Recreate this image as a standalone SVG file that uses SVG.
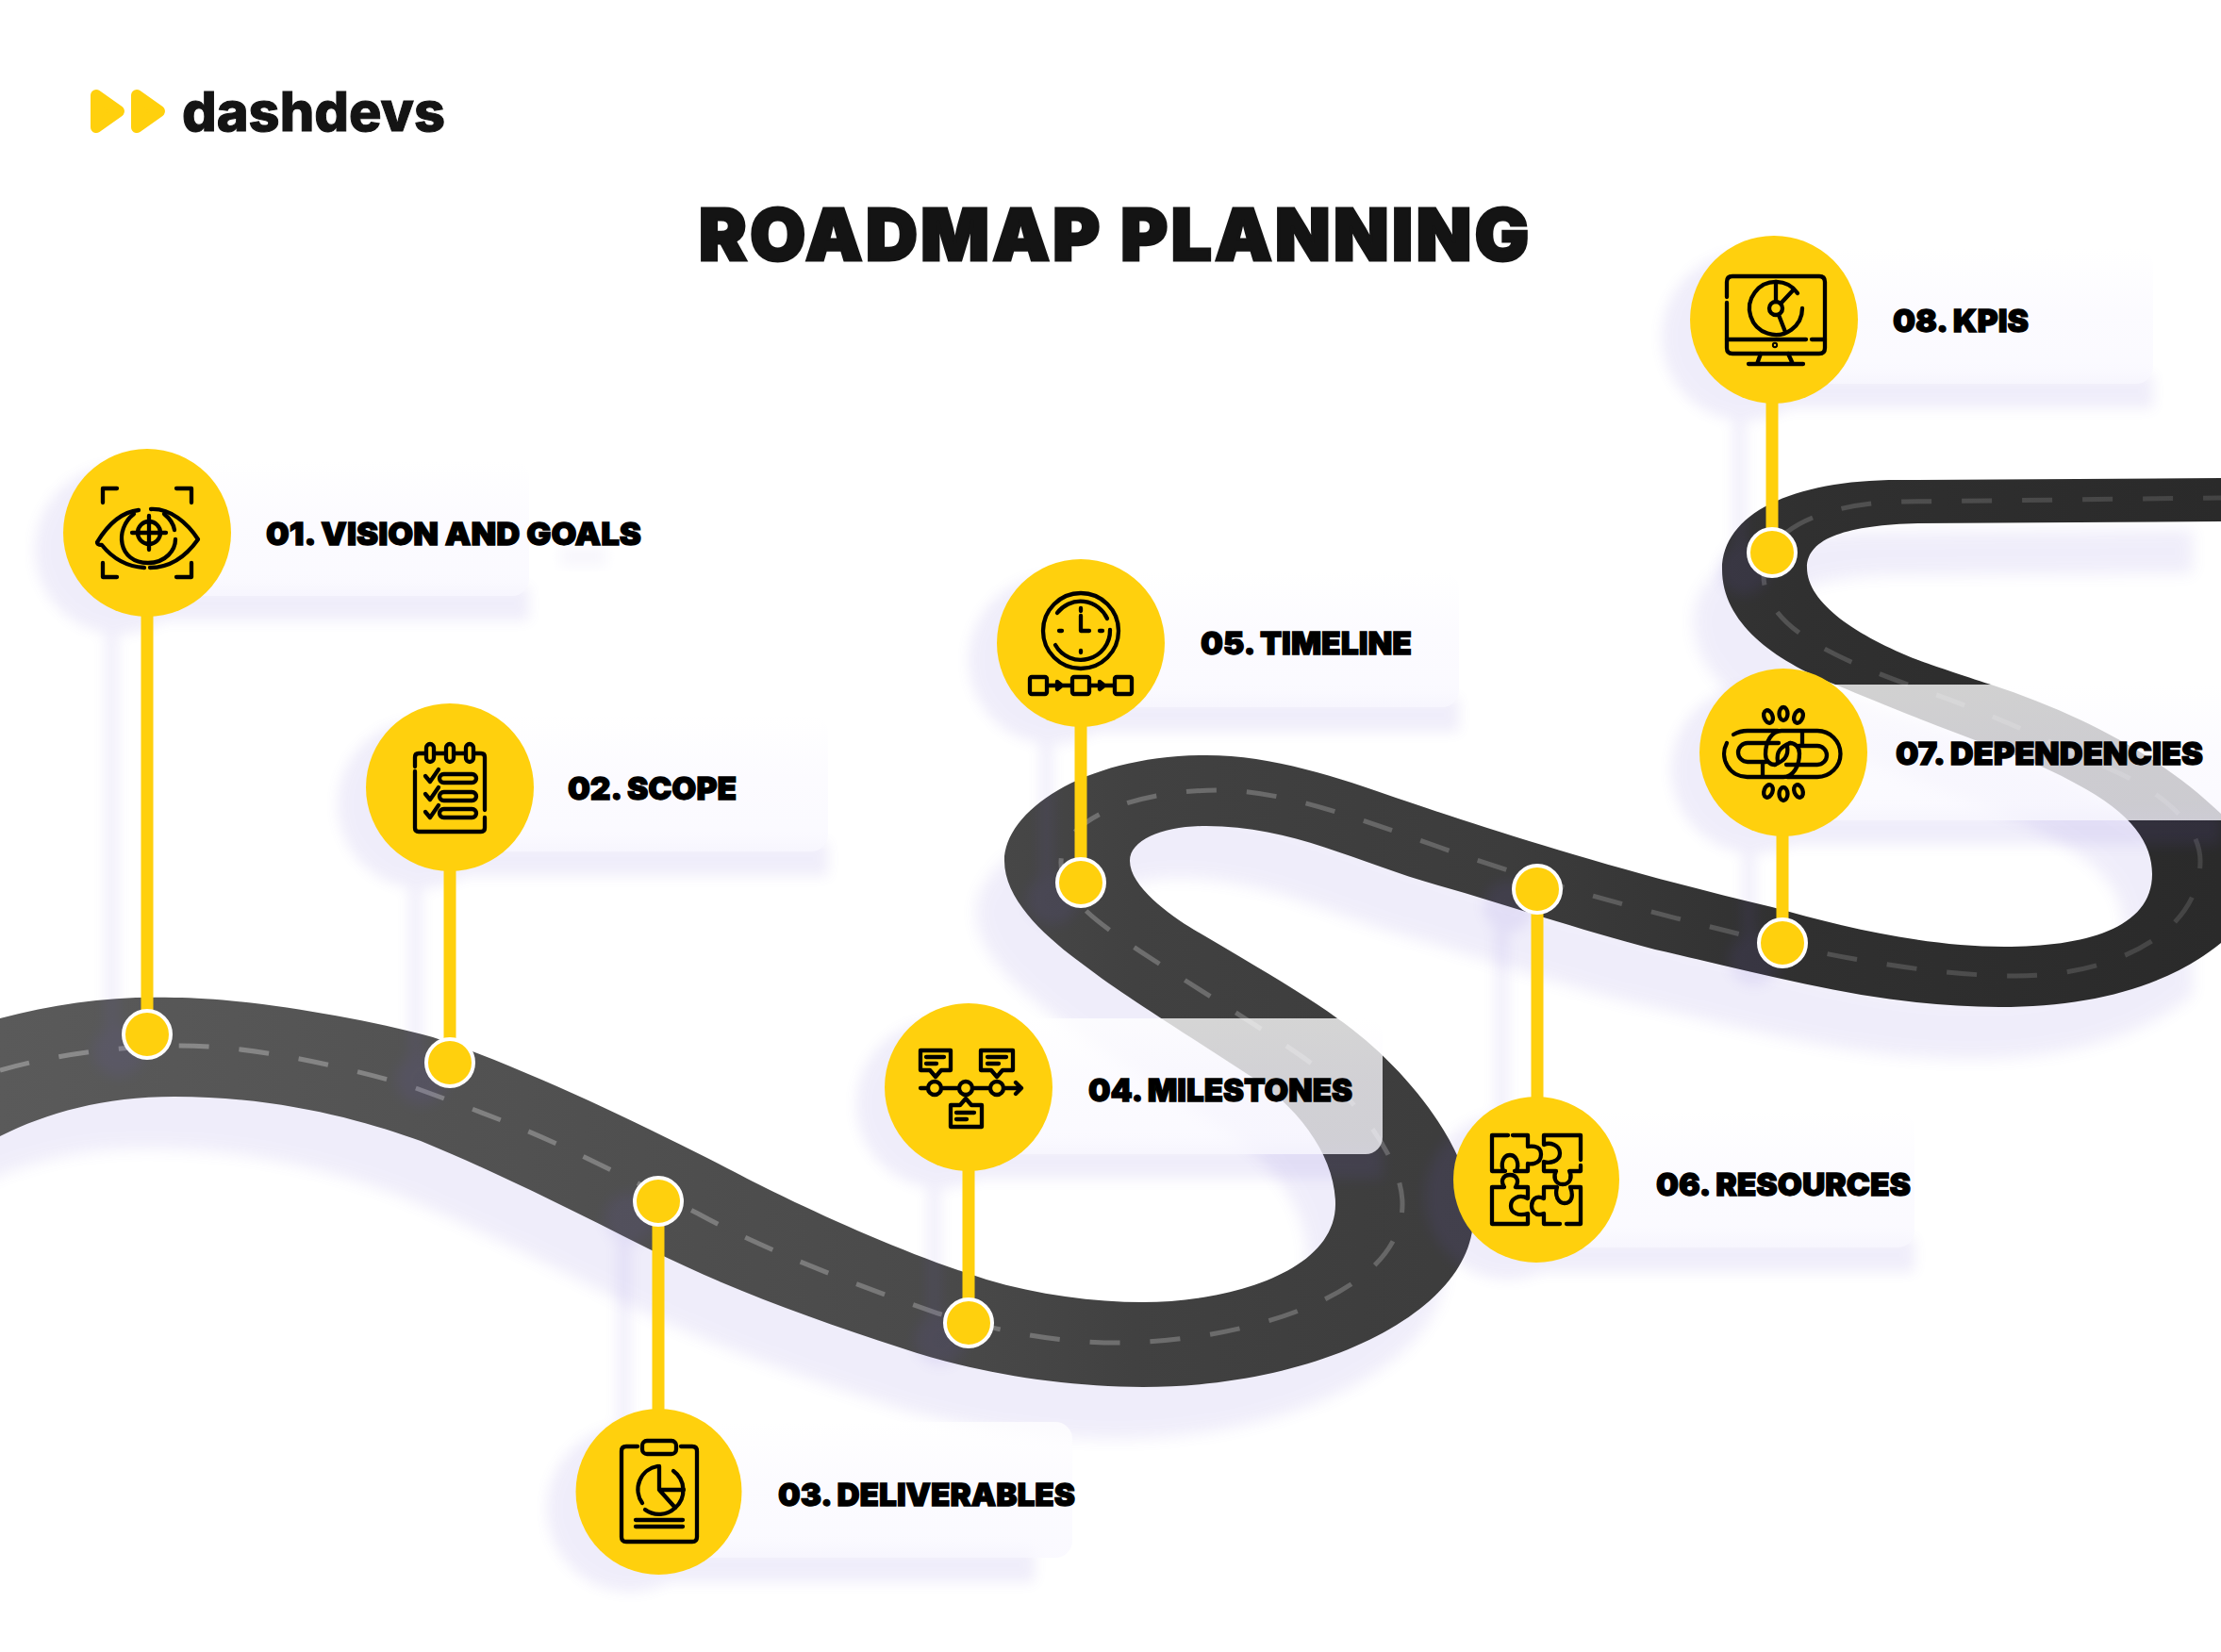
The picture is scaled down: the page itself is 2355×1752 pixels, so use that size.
<svg xmlns="http://www.w3.org/2000/svg" width="2355" height="1752" viewBox="0 0 2355 1752">
<style>
.t{font-family:"Inter","Liberation Sans",sans-serif;font-weight:900;fill:#000;stroke:#000;stroke-width:1.300;font-size:33px}
.i{fill:none;stroke:#000;stroke-width:4.300;stroke-linecap:round;stroke-linejoin:round}
.y{fill:#ffd00d}
.p{fill:url(#pg);fill-opacity:.78}
.d{fill:#ffd00d;stroke:#fff;stroke-width:4}
.l{stroke:#ffd00d;stroke-width:13}
</style>
<defs>
<linearGradient id="pg" x1="0" y1="0" x2="0" y2="1"><stop offset="0" stop-color="#fff"/><stop offset=".45" stop-color="#fbfaff"/><stop offset="1" stop-color="#f9f8ff"/></linearGradient>
<linearGradient id="rg" gradientUnits="userSpaceOnUse" x1="0" y1="0" x2="2355" y2="0">
<stop offset="0" stop-color="#5a5a5a"/><stop offset=".21" stop-color="#525252"/><stop offset=".42" stop-color="#4a4a4a"/><stop offset=".51" stop-color="#414141"/><stop offset=".68" stop-color="#3c3c3c"/><stop offset=".81" stop-color="#303030"/><stop offset="1" stop-color="#2a2a2a"/>
</linearGradient>
<linearGradient id="dg" gradientUnits="userSpaceOnUse" x1="0" y1="0" x2="2355" y2="0">
<stop offset="0" stop-color="#fff" stop-opacity=".3"/><stop offset=".5" stop-color="#fff" stop-opacity=".24"/><stop offset="1" stop-color="#fff" stop-opacity=".12"/>
</linearGradient>
<filter id="b" x="-10%" y="-10%" width="120%" height="120%"><feGaussianBlur stdDeviation="8"/></filter>
<filter id="b2" x="-30%" y="-30%" width="160%" height="160%"><feGaussianBlur stdDeviation="7"/></filter>
<path id="road" d="M0 1080C60 1064 120 1056 185 1058C250 1058 370 1076 459 1100C560 1134 690 1197 779 1243C840 1275 950 1327 1046 1357C1100 1373 1160 1381 1212 1381C1300 1381 1416 1350 1416 1277C1416 1225 1375 1172 1324 1140C1260 1098 1190 1055 1150 1024C1110 995 1065 955 1065 913C1065 860 1150 801 1279 801C1350 801 1420 825 1480 846C1560 873 1700 920 1879 962C1950 982 2040 1004 2125 1004C2210 1004 2282 985 2282 927C2282 895 2262 863 2201 831C2160 808 2120 795 2076 778C2020 757 1985 742 1946 726C1880 700 1826 660 1826 604C1826 545 1900 509 2013 509L2355 507L2355 553L2034 555C1960 557 1916 570 1916 602C1916 640 1970 675 2034 700C2050 706 2080 716 2111 726C2200 755 2290 800 2355 863L2355 1000C2300 1045 2220 1068 2120 1068C1990 1068 1880 1035 1755 1007C1670 985 1600 960 1525 939C1440 915 1370 876 1279 876C1235 876 1198 890 1198 913C1198 940 1240 970 1266 986C1320 1018 1380 1052 1418 1080C1490 1130 1562 1220 1562 1292C1562 1390 1400 1471 1212 1471C1125 1471 1030 1455 957 1430C860 1398 780 1370 689 1325C610 1285 520 1240 446 1210C390 1190 300 1163 185 1163C110 1163 50 1180 0 1205Z"/>
</defs>
<rect width="2355" height="1752" fill="#fff"/>

<g id="logo">
<path class="y" stroke="#ffd00d" stroke-width="12" stroke-linejoin="round" d="M102 101L126 118L102 135Z"/>
<path class="y" stroke="#ffd00d" stroke-width="12" stroke-linejoin="round" d="M145 101L169 118L145 135Z"/>
<text x="193" y="139" textLength="279" lengthAdjust="spacingAndGlyphs" style="font-family:Inter,'Liberation Sans',sans-serif;font-weight:800;font-size:58px;fill:#141414;stroke:#141414;stroke-width:1">dashdevs</text>
</g>
<text id="title" x="741" y="276" textLength="880" lengthAdjust="spacing" style="font-family:Inter,'Liberation Sans',sans-serif;font-weight:900;font-size:76px;fill:#141414;stroke:#141414;stroke-width:3">ROADMAP PLANNING</text>

<g id="road-shadow" filter="url(#b)" opacity=".1" fill="#6e5ad2"><use href="#road" transform="translate(-30 55)"/></g>
<g id="road-surface">
<use href="#road" fill="url(#rg)"/>
<path fill="none" stroke="url(#dg)" stroke-width="5" stroke-dasharray="32 32" d="M0 1135C60 1118 130 1109 191 1109C260 1109 340 1125 430 1150C490 1172 540 1190 590 1213C640 1236 690 1262 740 1287C800 1320 890 1357 995 1393C1060 1412 1120 1424 1186 1424C1300 1424 1487 1380 1487 1277C1487 1230 1440 1170 1395 1131C1340 1090 1230 1025 1186 993C1150 968 1125 945 1125 915C1125 870 1200 838 1293 838C1360 838 1440 868 1525 898C1620 932 1720 960 1830 987C1920 1010 2040 1035 2138 1035C2240 1035 2333 990 2333 913C2333 885 2310 850 2247 820C2180 790 2120 760 2042 733C1960 703 1870 670 1870 610C1870 555 1950 532 2020 532L2355 528"/>
</g>

<g id="shadows" filter="url(#b2)" opacity=".1" fill="#6e5ad2">
<circle cx="126" cy="583" r="89"/><rect x="150" y="622" width="411" height="36"/><rect x="112" y="600" width="13" height="500"/><circle cx="126" cy="1115" r="27"/>
<circle cx="447" cy="853" r="89"/><rect x="470" y="893" width="408" height="36"/><rect x="434" y="860" width="13" height="270"/><circle cx="447" cy="1145" r="27"/>
<circle cx="668" cy="1600" r="88"/><rect x="690" y="1642" width="407" height="36"/><rect x="655" y="1280" width="13" height="310"/><circle cx="668" cy="1292" r="27"/>
<circle cx="997" cy="1171" r="89"/><rect x="1020" y="1214" width="446" height="36"/><rect x="984" y="1200" width="13" height="200"/><circle cx="997" cy="1421" r="27"/>
<circle cx="1116" cy="700" r="89"/><rect x="1140" y="740" width="407" height="36"/><rect x="1103" y="720" width="13" height="220"/><circle cx="1116" cy="954" r="27"/>
<circle cx="1599" cy="1269" r="88"/><rect x="1620" y="1313" width="410" height="36"/><rect x="1586" y="950" width="13" height="310"/><circle cx="1600" cy="961" r="27"/>
<circle cx="1861" cy="816" r="89"/><rect x="1880" y="860" width="475" height="36"/><rect x="1848" y="840" width="13" height="160"/><circle cx="1860" cy="1018" r="27"/>
<circle cx="1851" cy="357" r="89"/><rect x="1870" y="397" width="413" height="36"/><rect x="1838" y="380" width="13" height="210"/><circle cx="1849" cy="604" r="27"/>
</g>

<g id="connectors">
<line class="l" x1="156" y1="640" x2="156" y2="1097"/><circle class="d" cx="156" cy="1097" r="25"/>
<line class="l" x1="477" y1="910" x2="477" y2="1127"/><circle class="d" cx="477" cy="1127" r="25"/>
<line class="l" x1="698" y1="1274" x2="698" y2="1510"/><circle class="d" cx="698" cy="1274" r="25"/>
<line class="l" x1="1027" y1="1230" x2="1027" y2="1403"/><circle class="d" cx="1027" cy="1403" r="25"/>
<line class="l" x1="1146" y1="760" x2="1146" y2="936"/><circle class="d" cx="1146" cy="936" r="25"/>
<line class="l" x1="1630" y1="943" x2="1630" y2="1175"/><circle class="d" cx="1630" cy="943" r="25"/>
<line class="l" x1="1890" y1="875" x2="1890" y2="1000"/><circle class="d" cx="1890" cy="1000" r="25"/>
<line class="l" x1="1879" y1="415" x2="1879" y2="586"/><circle class="d" cx="1879" cy="586" r="25"/>
</g>

<g id="node-01">
<rect class="p" x="186" y="488" width="375" height="144" rx="18"/><rect x="594" y="580" width="49" height="20" fill="#f7f6fc" filter="url(#b2)"/>
<circle class="y" cx="156" cy="565" r="89"/>
<g class="i" transform="translate(156 565)">
<path d="M-47 -32V-47H-32M31 -47H47V-32M-47 32V47H-32M47 32V47H31"/>
<path d="M-9 -24C-28 -22 -42 -8 -53 10C-53 12 -51 13 -48 13C-36 28 -20 36 -3 37M4 -25C25 -26 43 -10 54 7C42 24 25 37 3 37"/>
<path d="M-14 -20C-35 -4 -31 32 1 32C20 32 30 18 30 7M29 -3C28 -10 24 -15 18 -20"/>
<circle cx="2" cy="0" r="12"/><path d="M-16 0H20M2 -18V18"/>
</g>
<text class="t" x="282" y="578" textLength="398" lengthAdjust="spacingAndGlyphs">01. VISION AND GOALS</text>
</g>

<g id="node-02">
<rect class="p" x="507" y="759" width="371" height="144" rx="18"/>
<circle class="y" cx="477" cy="835" r="89"/>
<g class="i" transform="translate(477 835)">
<path d="M-37 -22V-32Q-37 -36 -33 -36H-27M-15 -36H-6M6 -36H15M27 -36H33Q37 -36 37 -32V24M37 32V43Q37 47 33 47H-33Q-37 47 -37 43V-17"/>
<rect x="-25" y="-46" width="8" height="19" rx="4"/><rect x="-4" y="-46" width="8" height="19" rx="4"/><rect x="17" y="-46" width="8" height="19" rx="4"/>
<path d="M-26 -12L-21 -6L-12 -19M-26 7L-21 13L-12 0M-26 26L-21 32L-12 19"/>
<rect x="-11" y="-14" width="39" height="9" rx="4.500"/><rect x="-11" y="5" width="39" height="9" rx="4.500"/><rect x="-11" y="23" width="39" height="9" rx="4.500"/>
</g>
<text class="t" x="602" y="848" textLength="179" lengthAdjust="spacingAndGlyphs">02. SCOPE</text>
</g>

<g id="node-03">
<rect class="p" x="728" y="1508" width="409" height="144" rx="18"/>
<circle class="y" cx="698.500" cy="1582" r="88"/>
<g class="i" transform="translate(699 1582)">
<path d="M-23 -48H-35Q-40 -48 -40 -43V48Q-40 53 -35 53H35Q40 53 40 48V-43Q40 -48 35 -48H23"/>
<rect x="-18" y="-54" width="36" height="14" rx="5"/>
<path d="M-18 12A25 25 0 0 1 -2 -27M15 -22A25 25 0 0 1 17 17A25 25 0 0 1 -15 19"/>
<path d="M0 -27V-2H26M0 -2L17 17"/>
<path d="M-25 30H25M-25 37H25"/>
</g>
<text class="t" x="825" y="1597" textLength="315" lengthAdjust="spacingAndGlyphs">03. DELIVERABLES</text>
</g>

<g id="node-04">
<rect class="p" x="1057" y="1080" width="409" height="144" rx="18"/>
<circle class="y" cx="1027" cy="1153" r="89"/>
<g class="i" transform="translate(1027 1153)">
<path d="M-51 1H-43M-29 1H-10M4 1H23M37 1H56M50 -5L56 1L50 7"/>
<circle cx="-36" cy="1" r="7"/><circle cx="-3" cy="1" r="7"/><circle cx="30" cy="1" r="7"/>
<path d="M-51 -39H-19V-18H-29L-35 -11L-41 -18H-51Z"/><path d="M-45 -32H-26M-45 -25H-34"/>
<path d="M13 -39H47V-18H36L30 -11L24 -18H13Z"/><path d="M20 -32H40M20 -25H32"/>
<path d="M-19 19H-9L-3 12L3 19H14V42H-19Z"/><path d="M-13 27H6M-13 34H-2"/>
</g>
<text class="t" x="1154" y="1168" textLength="280" lengthAdjust="spacingAndGlyphs">04. MILESTONES</text>
</g>

<g id="node-05">
<rect class="p" x="1176" y="606" width="371" height="144" rx="18"/>
<circle class="y" cx="1146" cy="682" r="89"/>
<g class="i" transform="translate(1146 682)">
<circle cx="0" cy="-13" r="40"/>
<path d="M-25 -32A31 31 0 0 1 28 -26M31 -14A31 31 0 0 1 -27 2"/>
<path d="M0 -37V-34M-23 -13H-20M20 -13H23M0 8V10M0 -29V-13H9"/>
<rect x="-54" y="36" width="18" height="18" rx="2"/><rect x="-9" y="36" width="18" height="18" rx="2"/><rect x="36" y="36" width="18" height="18" rx="2"/>
<path d="M-36 45H-9M-25 41L-20 45L-25 49ZM9 45H36M20 41L25 45L20 49Z"/>
</g>
<text class="t" x="1273" y="694" textLength="224" lengthAdjust="spacingAndGlyphs">05. TIMELINE</text>
</g>

<g id="node-06">
<rect class="p" x="1659" y="1179" width="371" height="144" rx="18"/>
<circle class="y" cx="1629" cy="1251" r="88"/>
<g class="i" transform="translate(1629 1251)">
<path d="M-30 -47H-47V-9H-33C-38 -9 -38 -26 -28 -26C-18 -26 -18 -9 -23 -9H-9V-17C-9 -17 5 -14 5 -27C5 -38 -9 -35 -9 -35V-47H-25"/>
<path d="M47 -21V-47H8V-37C14 -40 25 -37 25 -28C25 -19 14 -17 8 -19V-9H21C18 -4 19 5 28 5C37 5 38 -4 35 -9H47V-15"/>
<path d="M-47 8H-34C-38 2 -36 -5 -28 -5C-20 -5 -18 2 -22 8H-9V20C-18 15 -27 20 -27 28C-27 36 -18 39 -9 36V47H-47Z"/>
<path d="M32 47H47V8H36C40 18 37 25 30 25C24 25 19 18 22 8H8V20C-1 16 -5 22 -5 28C-5 32 -2 40 8 36V47H25"/>
</g>
<text class="t" x="1756" y="1268" textLength="270" lengthAdjust="spacingAndGlyphs">06. RESOURCES</text>
</g>

<g id="node-07">
<rect class="p" x="1921" y="726" width="470" height="144" rx="18"/>
<circle class="y" cx="1891" cy="798" r="89"/>
<g class="i" transform="translate(1891 798)">
<path d="M-53 -19Q-46 -23 -38 -23H-6M-60 -10A24.5 24.5 0 0 0 -38 26H0C10 26 17 15 17 1C17 -6 12 -10 7 -10M-5 -10H-38A10 10 0 0 0 -38 10H-18M-22 12V25"/>
<path d="M4 26H36A24.500 24.500 0 0 0 36 -23H-2C-12 -23 -19 -12 -19 2C-19 9 -14 13 -9 13M3 13H36A10 10 0 0 0 36 -7H16M20 -9V-22"/>
<path d="M-6 10C-8 -2 -2 -6 7 -10"/>
<path d="M-9 13C0 9 6 5 4 -7"/>
<ellipse cx="-16" cy="-38" rx="4.500" ry="7" transform="rotate(-20 -16 -38)"/><ellipse cx="0" cy="-41" rx="4.500" ry="7"/><ellipse cx="16" cy="-38" rx="4.500" ry="7" transform="rotate(20 16 -38)"/>
<ellipse cx="-16" cy="41" rx="4.500" ry="7" transform="rotate(20 -16 41)"/><ellipse cx="0" cy="44" rx="4.500" ry="7"/><ellipse cx="16" cy="41" rx="4.500" ry="7" transform="rotate(-20 16 41)"/>
</g>
<text class="t" x="2010" y="811" textLength="326" lengthAdjust="spacingAndGlyphs">07. DEPENDENCIES</text>
</g>

<g id="node-08">
<rect class="p" x="1911" y="263" width="372" height="144" rx="18"/>
<circle class="y" cx="1881" cy="339" r="89"/>
<g class="i" transform="translate(1881 339)">
<path d="M-50 -24V-40Q-50 -46 -44 -46H48Q54 -46 54 -40V30Q54 36 48 36H-44Q-50 36 -50 30V-18"/>
<path d="M-50 21H34M40 21H54"/>
<circle cx="1" cy="27" r="1"/>
<path d="M-14 36L-18 47M15 36L20 47M-27 47H31"/>
<path d="M30 -12A28 28 0 1 1 25 -28"/>
<circle cx="2" cy="-12" r="7"/>
<path d="M2 -40V-19M21 -32L7 -17M5 -5L12 13"/>
</g>
<text class="t" x="2007" y="352" textLength="144" lengthAdjust="spacingAndGlyphs">08. KPIS</text>
</g>
</svg>
